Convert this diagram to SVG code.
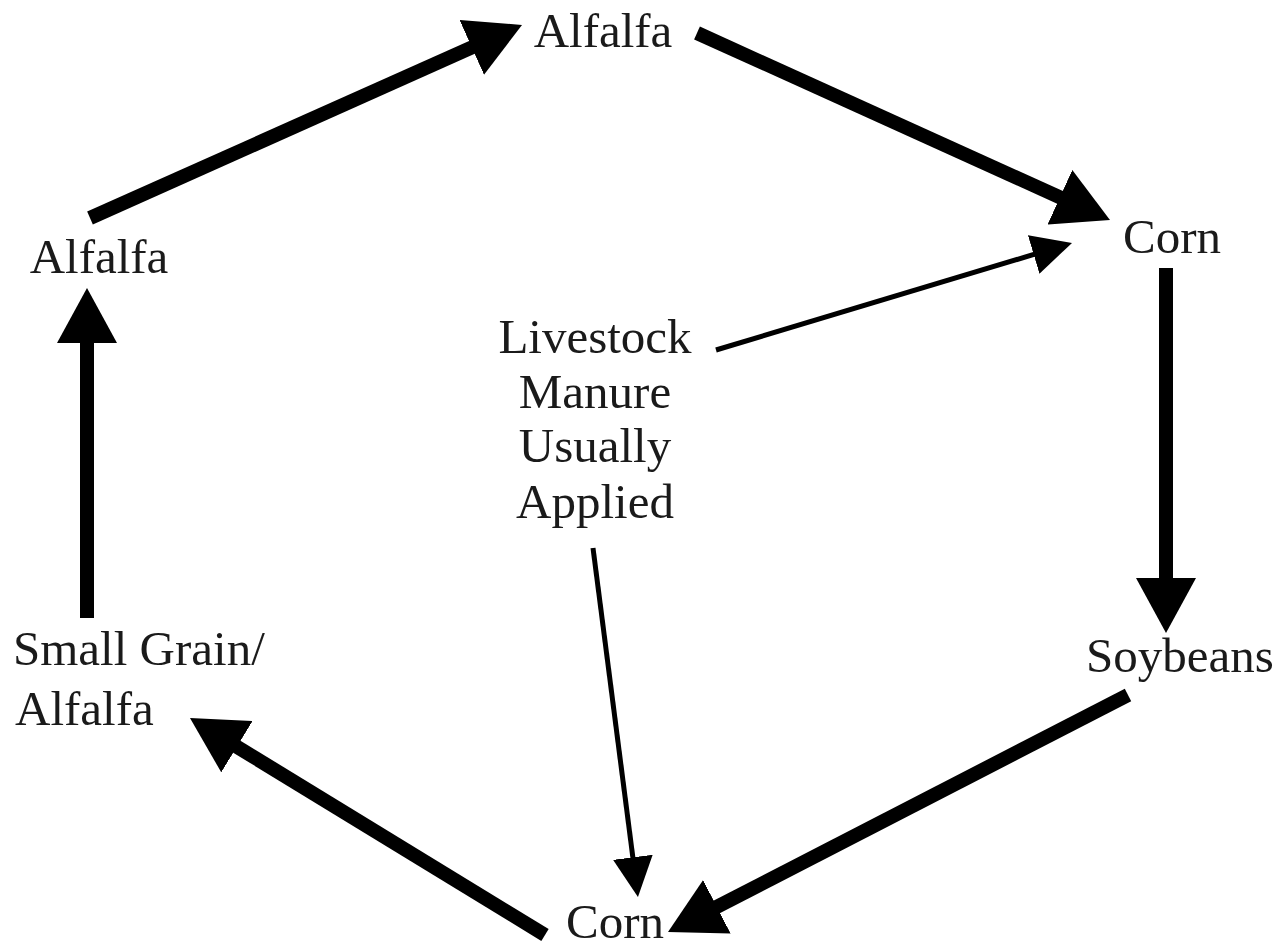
<svg xmlns="http://www.w3.org/2000/svg" width="1281" height="951" viewBox="0 0 1281 951">
<defs>
<style>
text{font-family:"Liberation Serif","Times New Roman",serif;font-size:49px;fill:#1a1a1a}
.c{text-anchor:middle}
.thick{stroke:#000;stroke-width:14;fill:none;marker-end:url(#hb)}
.thin{stroke:#000;stroke-width:5;fill:none;marker-end:url(#hs)}
</style>
<marker id="hb" markerUnits="userSpaceOnUse" markerWidth="56" markerHeight="60" refX="2" refY="30" orient="auto" viewBox="0 0 56 60">
<path d="M0,0 L55,30 L0,60 z" fill="#000"/>
</marker>
<marker id="hs" markerUnits="userSpaceOnUse" markerWidth="41" markerHeight="40" refX="2" refY="20" orient="auto" viewBox="0 0 41 40">
<path d="M0,0 L40,20 L0,40 z" fill="#000"/>
</marker>
</defs>
<rect width="1281" height="951" fill="#fff"/>
<g id="connectors">
<line class="thick" x1="90" y1="218" x2="473.6" y2="46.6"/>
<line class="thick" x1="697" y1="33" x2="1061.7" y2="198.1"/>
<line class="thick" x1="1166" y1="268" x2="1166" y2="580"/>
<line class="thick" x1="1128" y1="695" x2="715.1" y2="907.7"/>
<line class="thick" x1="545" y1="935" x2="235.2" y2="745.7"/>
<line class="thick" x1="87" y1="618" x2="87" y2="341"/>
<line class="thin" x1="716" y1="350" x2="1035.6" y2="253.9"/>
<line class="thin" x1="593" y1="548" x2="633.1" y2="859.3"/>
</g>
<g id="alfalfa-top"><text class="c" x="603" y="47">Alfalfa</text></g>
<g id="corn-right"><text class="c" x="1172" y="253">Corn</text></g>
<g id="alfalfa-left"><text class="c" x="99" y="273">Alfalfa</text></g>
<g id="livestock"><text class="c" x="595" y="353">Livestock</text><text class="c" x="595" y="408">Manure</text><text class="c" x="595" y="462">Usually</text><text class="c" x="595" y="518">Applied</text></g>
<g id="soybeans"><text class="c" x="1180" y="672">Soybeans</text></g>
<g id="small-grain"><text x="13" y="665">Small Grain/</text><text x="15" y="725">Alfalfa</text></g>
<g id="corn-bottom"><text class="c" x="615" y="938">Corn</text></g>
</svg>
